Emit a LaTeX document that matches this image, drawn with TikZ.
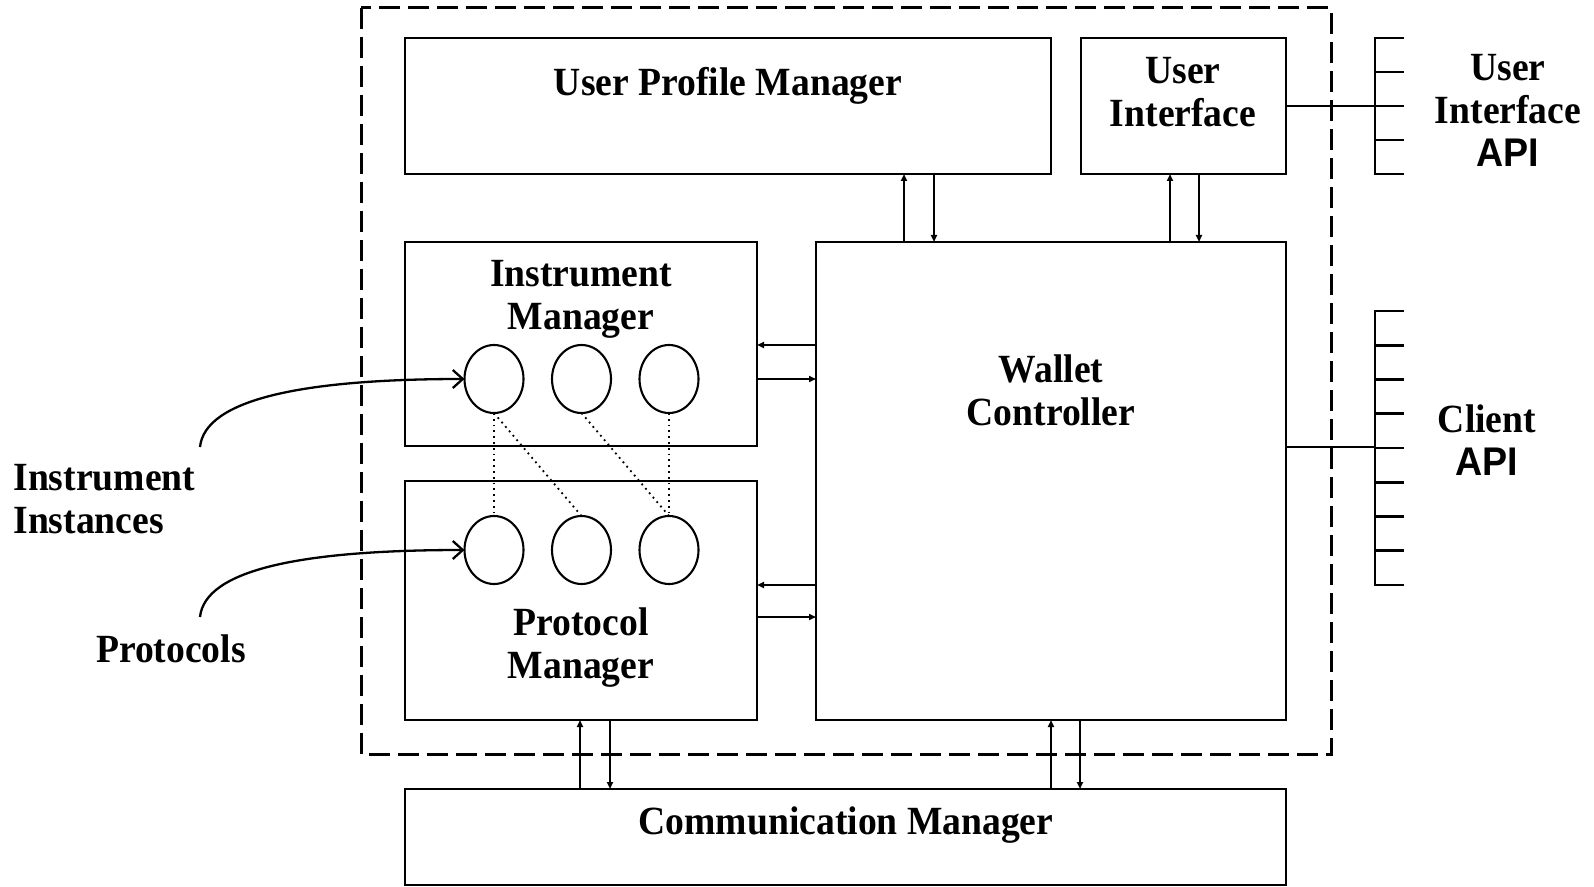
\documentclass[tikz,border=0pt]{standalone}
\usepackage{fontspec}
\setmainfont{Liberation Serif}[FakeStretch=0.94]
\newfontfamily\apifont{Liberation Sans}[FakeStretch=0.94]
\usetikzlibrary{arrows.meta,shapes.geometric,calc}

\begin{document}
\begin{tikzpicture}[x=0.5pt,y=-0.5pt,
  blk/.style={draw, line width=1.35pt, rectangle, inner sep=0pt, outer sep=0pt},
  lbl/.style={font=\fontsize{20}{21.5}\selectfont\bfseries, align=center, inner sep=0pt},
  inst/.style={draw, ellipse, line width=1.05pt, minimum width=29.5pt, minimum height=34pt, inner sep=0pt, outer sep=0pt},
  link/.style={line width=0.85pt, -{Triangle[length=3.5pt,width=3pt]}},
  dotlink/.style={line width=0.9pt, dotted},
  feed/.style={line width=1.15pt, -{Straight Barb[length=5pt,width=9pt,line width=1.15pt]}},
  comb/.style={line width=1.3pt},
  frame/.style={line width=1.5pt, dash pattern=on 10.5pt off 4pt},
]
\useasboundingbox (0,0) rectangle (1594,887);

% wallet boundary
\draw[frame] (361,8) rectangle (1331,754);

% components
\node[blk, minimum width=323pt,   minimum height=68pt]    (upm) at (728,106) {};
\node[blk, minimum width=102.5pt, minimum height=68pt]    (ui)  at (1183.5,106) {};
\node[blk, minimum width=176pt,   minimum height=102pt]   (im)  at (581,344) {};
\node[blk, minimum width=176pt,   minimum height=119.5pt] (pm)  at (581,600.5) {};
\node[blk, minimum width=235pt,   minimum height=239pt]   (wc)  at (1051,481) {};
\node[blk, minimum width=440.5pt, minimum height=48pt]    (cm)  at (845.5,837) {};

% component titles
\node[lbl] (t-upm) at (728,86)  {User Profile Manager};
\node[lbl] (t-ui)  at (1183,92) {User\\Interface};
\node[lbl] (t-im)  at (581,299) {Instrument\\Manager};
\node[lbl] (t-wc)  at (1051,390) {Wallet\\Controller};
\node[lbl] (t-pm)  at (581,648) {Protocol\\Manager};
\node[lbl] (t-cm)  at (846,825) {Communication Manager};

% instrument instances and protocols
\node[inst] (e1) at (494,379) {};
\node[inst] (e2) at (581.5,379) {};
\node[inst] (e3) at (669,379) {};
\node[inst] (p1) at (494,550) {};
\node[inst] (p2) at (581.5,550) {};
\node[inst] (p3) at (669,550) {};

\draw[dotlink] (e1.south) -- (p1.north);
\draw[dotlink] (e1.south) -- (p2.north);
\draw[dotlink] (e2.south) -- (p3.north);
\draw[dotlink] (e3.south) -- (p3.north);

% vertical link pairs
\coordinate (a1) at ($(wc.north west)+(88,0)$);
\coordinate (a2) at ($(wc.north west)+(118,0)$);
\draw[link] (a1) -- (a1 |- upm.south);
\draw[link] (a2 |- upm.south) -- (a2);
\coordinate (a3) at ($(wc.north west)+(354,0)$);
\coordinate (a4) at ($(wc.north west)+(383,0)$);
\draw[link] (a3) -- (a3 |- ui.south);
\draw[link] (a4 |- ui.south) -- (a4);
\coordinate (b1) at ($(cm.north west)+(175,0)$);
\coordinate (b2) at ($(cm.north west)+(205,0)$);
\draw[link] (b1) -- (b1 |- pm.south);
\draw[link] (b2 |- pm.south) -- (b2);
\coordinate (b3) at ($(cm.north west)+(646,0)$);
\coordinate (b4) at ($(cm.north west)+(675,0)$);
\draw[link] (b3) -- (b3 |- wc.south);
\draw[link] (b4 |- wc.south) -- (b4);

% horizontal link pairs
\coordinate (h1) at ($(wc.north west)+(0,103)$);
\coordinate (h2) at ($(wc.north west)+(0,137)$);
\draw[link] (h1) -- (h1 -| im.east);
\draw[link] (h2 -| im.east) -- (h2);
\coordinate (h3) at ($(wc.north west)+(0,343)$);
\coordinate (h4) at ($(wc.north west)+(0,375)$);
\draw[link] (h3) -- (h3 -| pm.east);
\draw[link] (h4 -| pm.east) -- (h4);

% external labels with pointers
\node[lbl, align=left, anchor=west] (t-inst) at (13,499) {Instrument\\Instances};
\node[lbl] (t-prot) at (171,649) {Protocols};
\coordinate (f1) at (200,447);
\coordinate (f2) at (200,617);
\draw[feed] (f1) .. controls (205,400) and (300,379) .. (e1.west);
\draw[feed] (f2) .. controls (205,570) and (300,550) .. (p1.west);

% user interface API
\coordinate (uib) at (1375,106);
\draw[comb] (1404,38) -- (1375,38) -- (1375,174) -- (1404,174);
\foreach \yy in {72,106,140} \draw[comb] (1375,\yy) -- (1404,\yy);
\draw[comb] (ui.east) -- (uib);
\node[lbl] (t-uiapi) at (1508,110) {User\\Interface\\{\apifont API}};

% client API
\coordinate (cab) at (1375,447);
\draw[comb] (1404,311) -- (1375,311) -- (1375,585) -- (1404,585);
\foreach \k in {1,...,7} \draw[comb] (1375,311+34.25*\k) -- (1404,311+34.25*\k);
\draw[comb] (cab -| wc.east) -- (cab);
\node[lbl] (t-capi) at (1487,440) {Client\\{\apifont API}};
\end{tikzpicture}
\end{document}
